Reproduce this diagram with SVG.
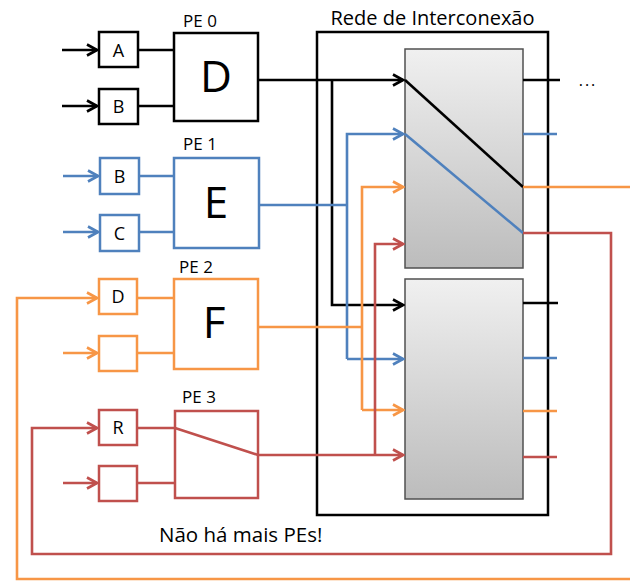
<svg xmlns="http://www.w3.org/2000/svg" width="630" height="583" viewBox="0 0 630 583">
<defs>
<style>
.t{font-family:"Open Sans","Liberation Sans",sans-serif;fill:#000}
.lbl{font-size:17px;text-anchor:middle}
.sm{font-size:18px;text-anchor:middle}
.big{font-size:44px;text-anchor:middle}
.box{fill:#fff;stroke-width:2.5}
.k{stroke:#000}.b{stroke:#4F81BD}.o{stroke:#F79646}.r{stroke:#C0504D}
.c{fill:none;stroke-width:2.6;stroke-linejoin:miter}
.sw{fill:url(#g);stroke:#505050;stroke-width:1.5}
</style>
<linearGradient id="g" x1="0" y1="0" x2="0" y2="1"><stop offset="0" stop-color="#f0f0f0"/><stop offset="1" stop-color="#bcbcbc"/></linearGradient>
<marker id="ak" markerUnits="userSpaceOnUse" markerWidth="14" markerHeight="14" viewBox="0 0 14 14" refX="12" refY="7" orient="auto"><path d="M2,1.5 L12,7 L2,12.5" fill="none" stroke="#000" stroke-width="2.6"/></marker>
<marker id="ab" markerUnits="userSpaceOnUse" markerWidth="14" markerHeight="14" viewBox="0 0 14 14" refX="12" refY="7" orient="auto"><path d="M2,1.5 L12,7 L2,12.5" fill="none" stroke="#4F81BD" stroke-width="2.6"/></marker>
<marker id="ao" markerUnits="userSpaceOnUse" markerWidth="14" markerHeight="14" viewBox="0 0 14 14" refX="12" refY="7" orient="auto"><path d="M2,1.5 L12,7 L2,12.5" fill="none" stroke="#F79646" stroke-width="2.6"/></marker>
<marker id="ar" markerUnits="userSpaceOnUse" markerWidth="14" markerHeight="14" viewBox="0 0 14 14" refX="12" refY="7" orient="auto"><path d="M2,1.5 L12,7 L2,12.5" fill="none" stroke="#C0504D" stroke-width="2.6"/></marker>
</defs>
<rect width="630" height="583" fill="#fff"/>

<g id="network">
<rect x="317" y="32" width="231" height="483" fill="#fff" stroke="#000" stroke-width="2.5"/>
<text class="t" x="432.5" y="25" font-size="20" text-anchor="middle">Rede de Interconexão</text>
<rect id="switch-upper" class="sw" x="405" y="49" width="118" height="219"/>
<rect id="switch-lower" class="sw" x="405" y="279" width="118" height="220"/>
<text class="t" x="588" y="86" font-size="16" letter-spacing="2" text-anchor="middle">...</text>
</g>

<g id="pe0">
<text class="t lbl" x="200" y="27">PE 0</text>
<rect class="box k" x="99" y="32" width="39" height="35"/><text class="t sm" x="118.5" y="56.5">A</text>
<rect class="box k" x="99" y="89" width="39" height="35"/><text class="t sm" x="118.5" y="113">B</text>
<rect class="box k" x="174" y="33" width="84" height="88"/><text class="t big" x="216" y="92">D</text>
</g>
<g id="pe1">
<text class="t lbl" x="200" y="150">PE 1</text>
<rect class="box b" x="100" y="158" width="39" height="36"/><text class="t sm" x="119.5" y="182.5">B</text>
<rect class="box b" x="100" y="215" width="39" height="36"/><text class="t sm" x="119.5" y="239.5">C</text>
<rect class="box b" x="174" y="158" width="85" height="90"/><text class="t big" x="216" y="218">E</text>
</g>
<g id="pe2">
<text class="t lbl" x="196" y="273">PE 2</text>
<rect class="box o" x="99" y="279" width="38" height="35"/><text class="t sm" x="118" y="303">D</text>
<rect class="box o" x="99" y="336" width="38" height="35"/>
<rect class="box o" x="174" y="279" width="84" height="90"/><text class="t big" x="214" y="338">F</text>
</g>
<g id="pe3">
<text class="t lbl" x="199" y="403">PE 3</text>
<rect class="box r" x="99" y="410" width="38" height="35"/><text class="t sm" x="118" y="434">R</text>
<rect class="box r" x="99" y="466" width="38" height="35"/>
<rect class="box r" x="175" y="411" width="83" height="87"/>
</g>

<g id="connectors">
<!-- PE0 black -->
<path class="c k" d="M62,50 H97" marker-end="url(#ak)"/>
<path class="c k" d="M62,106 H97" marker-end="url(#ak)"/>
<path class="c k" d="M138,50 H174 M138,106 H174"/>
<path class="c k" d="M258,80 H403" marker-end="url(#ak)"/>
<path class="c k" d="M332,80 V305 H403" marker-end="url(#ak)"/>
<path class="c k" d="M405,80 L523,187"/>
<path class="c k" d="M523,80 H560 M523,303 H558"/>
<!-- PE1 blue -->
<path class="c b" d="M63,176 H98" marker-end="url(#ab)"/>
<path class="c b" d="M63,232 H98" marker-end="url(#ab)"/>
<path class="c b" d="M139,176 H174 M139,232 H174"/>
<path class="c b" d="M259,205 H347"/>
<path class="c b" d="M347,359 V134 H403" marker-end="url(#ab)"/>
<path class="c b" d="M347,359 H403" marker-end="url(#ab)"/>
<path class="c b" d="M405,134 L523,233"/>
<path class="c b" d="M523,134 H557 M523,358 H557"/>
<!-- PE2 orange -->
<path class="c o" d="M630,579 H17 V298 H97" marker-end="url(#ao)"/>
<path class="c o" d="M63,353 H97" marker-end="url(#ao)"/>
<path class="c o" d="M137,298 H174 M137,353 H174"/>
<path class="c o" d="M258,327 H362"/>
<path class="c o" d="M362,410 V187 H403" marker-end="url(#ao)"/>
<path class="c o" d="M362,410 H403" marker-end="url(#ao)"/>
<path class="c o" d="M523,187 H630 M523,411 H557"/>
<!-- PE3 red -->
<path class="c r" d="M523,233 H611 V554 H32 V428 H97" marker-end="url(#ar)"/>
<path class="c r" d="M63,483 H97" marker-end="url(#ar)"/>
<path class="c r" d="M137,428 H175 M137,483 H175"/>
<path class="c r" d="M175,428 L258,455 H403" marker-end="url(#ar)"/>
<path class="c r" d="M375,455 V244 H403" marker-end="url(#ar)"/>
<path class="c r" d="M523,457 H557"/>
</g>

<text class="t" x="159" y="542" font-size="20.5">Não há mais PEs!</text>
</svg>
